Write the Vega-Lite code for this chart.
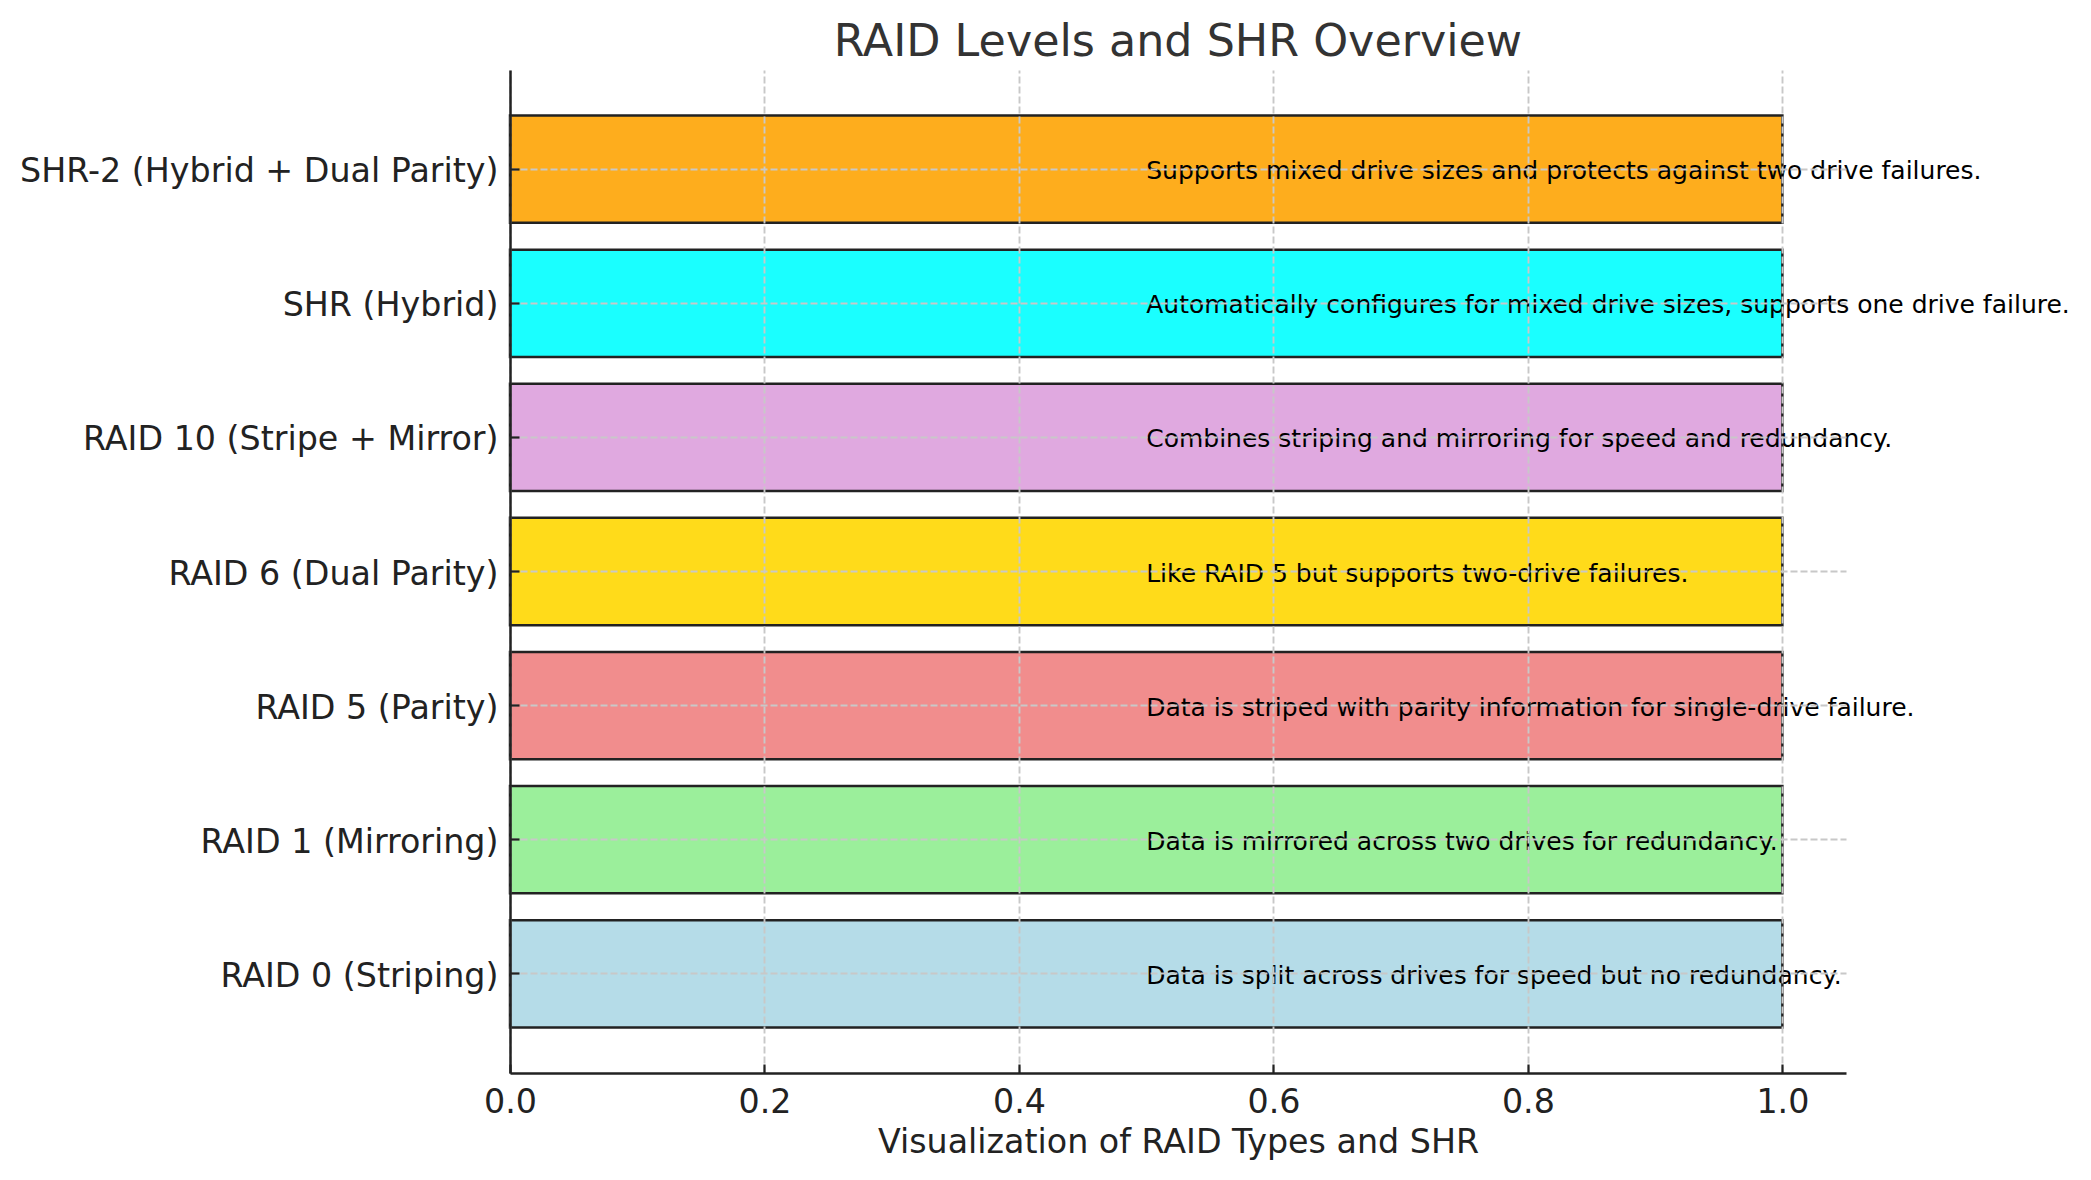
{
  "$schema": "https://vega.github.io/schema/vega-lite/v6.json",
  "width": 1336,
  "height": 1003,
  "autosize": "none",
  "padding": {"left": 510, "top": 70, "right": 245, "bottom": 107},
  "background": "white",
  "title": {
    "text": "RAID Levels and SHR Overview",
    "fontSize": 44.4,
    "font": "DejaVu Sans",
    "fontWeight": "normal",
    "color": "#333333",
    "anchor": "middle",
    "offset": 5
  },
  "data": {
    "values": [
      {"raid": "SHR-2 (Hybrid + Dual Parity)", "value": 1, "color": "#FEAD1D", "note": "Supports mixed drive sizes and protects against two drive failures."},
      {"raid": "SHR (Hybrid)", "value": 1, "color": "#1AFFFF", "note": "Automatically configures for mixed drive sizes, supports one drive failure."},
      {"raid": "RAID 10 (Stripe + Mirror)", "value": 1, "color": "#E0A9E0", "note": "Combines striping and mirroring for speed and redundancy."},
      {"raid": "RAID 6 (Dual Parity)", "value": 1, "color": "#FFDB1A", "note": "Like RAID 5 but supports two-drive failures."},
      {"raid": "RAID 5 (Parity)", "value": 1, "color": "#F18D8D", "note": "Data is striped with parity information for single-drive failure."},
      {"raid": "RAID 1 (Mirroring)", "value": 1, "color": "#9BEF9B", "note": "Data is mirrored across two drives for redundancy."},
      {"raid": "RAID 0 (Striping)", "value": 1, "color": "#B5DCE8", "note": "Data is split across drives for speed but no redundancy."}
    ]
  },
  "encoding": {
    "y": {
      "field": "raid",
      "type": "nominal",
      "sort": null,
      "title": null,
      "scale": {"paddingInner": 0.2, "paddingOuter": 0.34},
      "axis": {
        "zindex": 1,
        "grid": true,
        "tickBand": "center",
        "gridColor": "#c8c8c8",
        "gridDash": [7, 3],
        "gridWidth": 1.9,
        "domainColor": "#222222",
        "domainWidth": 2.5,
        "tickColor": "#222222",
        "tickWidth": 2.2,
        "tickSize": -9,
        "labelPadding": 21,
        "labelOffset": 3,
        "labelFont": "DejaVu Sans",
        "labelFontSize": 33.3,
        "labelColor": "#222222",
        "labelLimit": 1000
      }
    }
  },
  "layer": [
    {
      "mark": {"type": "bar", "stroke": "#222222", "strokeWidth": 2.5},
      "encoding": {
        "x": {
          "field": "value",
          "type": "quantitative",
          "title": "Visualization of RAID Types and SHR",
          "scale": {"domain": [0, 1.05], "nice": false, "zero": true},
          "axis": {
            "zindex": 1,
            "values": [0, 0.2, 0.4, 0.6, 0.8, 1.0],
            "format": ".1f",
            "grid": true,
            "gridColor": "#c8c8c8",
            "gridDash": [7, 3],
            "gridWidth": 1.9,
            "domainColor": "#222222",
            "domainWidth": 2.5,
            "tickColor": "#222222",
            "tickWidth": 2.2,
            "tickSize": -9,
            "labelPadding": 22,
            "labelFont": "DejaVu Sans",
            "labelFontSize": 33.3,
            "labelColor": "#222222",
            "labelFlush": false,
            "titleFont": "DejaVu Sans",
            "titleFontSize": 33.3,
            "titleFontWeight": "normal",
            "titleColor": "#222222",
            "titlePadding": 8
          }
        },
        "color": {"field": "color", "type": "nominal", "scale": null, "legend": null}
      }
    },
    {
      "mark": {
        "type": "text",
        "align": "left",
        "baseline": "middle",
        "dy": 2,
        "font": "DejaVu Sans",
        "fontSize": 25,
        "color": "#000000"
      },
      "encoding": {
        "x": {"datum": 0.5, "type": "quantitative"},
        "text": {"field": "note"}
      }
    }
  ],
  "config": {
    "view": {"stroke": null}
  }
}
